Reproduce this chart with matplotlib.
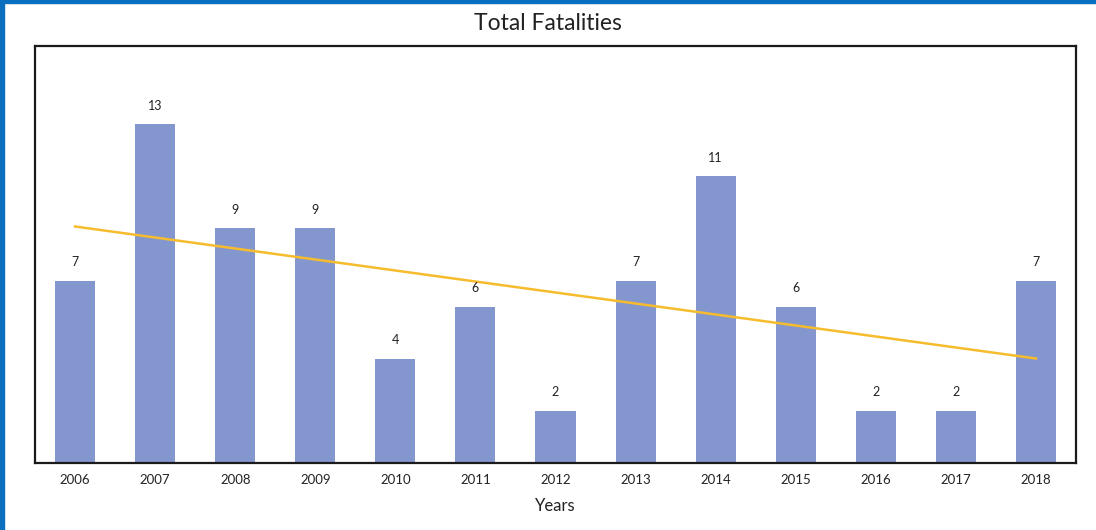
import matplotlib
matplotlib.use("Agg")
import matplotlib.pyplot as plt
import numpy as np
from matplotlib.patches import Rectangle

years = ["2006", "2007", "2008", "2009", "2010", "2011", "2012",
         "2013", "2014", "2015", "2016", "2017", "2018"]
fatalities = [7, 13, 9, 9, 4, 6, 2, 7, 11, 6, 2, 2, 7]

plt.rcParams['font.family'] = ['Lato', 'DejaVu Sans']

fig = plt.figure(figsize=(10.96, 5.30), dpi=100)
ax = fig.add_axes([35 / 1096, 1 - 462.5 / 530, (1076 - 35) / 1096, (462.5 - 46.5) / 530])

x = np.arange(len(years))
ax.bar(x, fatalities, width=0.5, color="#8496CE", zorder=2)

# linear trend line over the series
slope, intercept = np.polyfit(x, fatalities, 1)
ax.plot(x, slope * x + intercept, color="#F6BC2E", linewidth=1.8, zorder=3)

for xi, v in zip(x, fatalities):
    ax.annotate(str(v), (xi, v), xytext=(0, 9), textcoords="offset points",
                ha="center", va="bottom", fontsize=9, color="#222222")

ax.set_xlim(-0.5, len(years) - 0.5)
ax.set_ylim(0, 16)
ax.set_xticks(x)
ax.set_xticklabels(years, fontsize=9.5, color="#222222")
ax.tick_params(axis="x", length=0, pad=8)
ax.set_yticks([])
for s in ax.spines.values():
    s.set_linewidth(1.6)
    s.set_color("#1a1a1a")
ax.set_xlabel("Years", fontsize=12, color="#222222", labelpad=9)
fig.text(0.5, 1 - 23 / 530, "Total Fatalities", ha="center", va="center",
         fontsize=16.5, color="#222222")

# blue frame along the top and left edges
fig.patches.append(Rectangle((0, 1 - 3 / 530), 1, 3 / 530, transform=fig.transFigure,
                             color="#0B6FBF", zorder=10))
fig.patches.append(Rectangle((0, 0), 3.5 / 1096, 1, transform=fig.transFigure,
                             color="#0B6FBF", zorder=10))

fig.savefig("out.png", dpi=100)
